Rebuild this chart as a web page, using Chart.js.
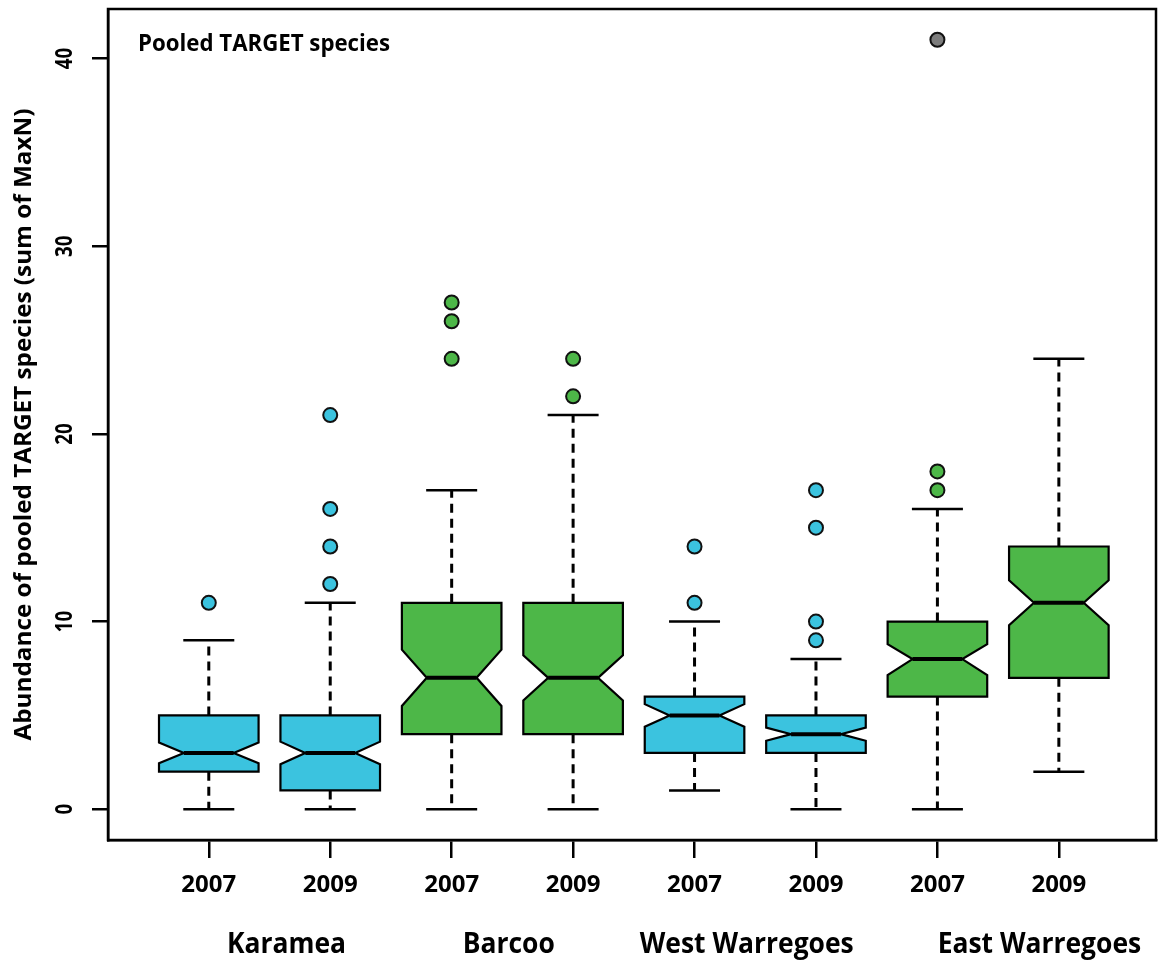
<!DOCTYPE html>
<html><head><meta charset="utf-8">
<script src="https://cdn.jsdelivr.net/npm/chart.js@4"></script>
<style>html,body{margin:0;padding:0;background:#fff}#wrap{width:1165px;height:961px;position:relative}</style>
</head><body><div id="wrap"><canvas id="c"></canvas></div>
<script>
// ---- data ----
const groups = ['Karamea', 'Barcoo', 'West Warregoes', 'East Warregoes'];
const groupLabelAt = [1.64, 3.47, 5.43, 7.84];
const years = ['2007', '2009', '2007', '2009', '2007', '2009', '2007', '2009'];
const whiskerLow = [0, 0, 0, 0, 1, 0, 0, 2];
const q1 = [2, 1, 4, 4, 3, 3, 6, 7];
const median = [3, 3, 7, 7, 5, 4, 8, 11];
const q3 = [5, 5, 11, 11, 6, 5, 10, 14];
const whiskerHigh = [9, 11, 17, 21, 10, 8, 16, 24];
const notchLow = [2.45, 2.4, 5.5, 5.8, 4.4, 3.65, 7.15, 9.8];
const notchHigh = [3.55, 3.6, 8.5, 8.2, 5.6, 4.35, 8.8, 12.2];
const outliers = [[11], [12, 14, 16, 21], [24, 26, 27], [22, 24], [11, 14], [9, 10, 15, 17], [17, 18], []];
const greyOutliers = [[], [], [], [], [], [], [41], []];
const yTicks = [0, 10, 20, 30, 40];
const panelTitle = 'Pooled TARGET species';
const yTitle = 'Abundance of pooled TARGET species (sum of MaxN)';

// ---- style ----
const CYAN = '#3BC3DF', GREEN = '#4DB748', GREY = '#7D7D7D';
const boxColor = i => (Math.floor(i / 2) % 2 === 0 ? CYAN : GREEN);
const BOX_HALF = 0.41, CAP_HALF = 0.21;
const FONT = '"Open Sans", "DejaVu Sans", sans-serif';

function fitText(ctx, text, x, y, font, width, align, rot) {
  ctx.save();
  ctx.font = font;
  const w = ctx.measureText(text).width;
  const s = width / w;
  ctx.translate(x, y);
  if (rot) ctx.rotate(rot);
  ctx.scale(s, 1);
  ctx.textAlign = align;
  ctx.textBaseline = 'alphabetic';
  ctx.fillStyle = '#000';
  ctx.fillText(text, 0, 0);
  ctx.restore();
}

const boxPlugin = {
  id: 'boxes',
  beforeDatasetsDraw(chart) {
    const { ctx, scales: { x, y } } = chart;
    for (let i = 0; i < median.length; i++) {
      const c = i + 1;
      const xc = x.getPixelForValue(c);
      const xl = x.getPixelForValue(c - BOX_HALF), xr = x.getPixelForValue(c + BOX_HALF);
      const xml = x.getPixelForValue(c - BOX_HALF / 2), xmr = x.getPixelForValue(c + BOX_HALF / 2);
      const cl = x.getPixelForValue(c - CAP_HALF), cr = x.getPixelForValue(c + CAP_HALF);
      ctx.save();
      ctx.strokeStyle = '#000';
      ctx.lineWidth = 3;
      ctx.setLineDash([9, 6]);
      ctx.beginPath();
      ctx.moveTo(xc, y.getPixelForValue(q3[i])); ctx.lineTo(xc, y.getPixelForValue(whiskerHigh[i]));
      ctx.moveTo(xc, y.getPixelForValue(q1[i])); ctx.lineTo(xc, y.getPixelForValue(whiskerLow[i]));
      ctx.stroke();
      ctx.setLineDash([]);
      ctx.lineWidth = 2.5;
      ctx.beginPath();
      ctx.moveTo(cl, y.getPixelForValue(whiskerHigh[i])); ctx.lineTo(cr, y.getPixelForValue(whiskerHigh[i]));
      ctx.moveTo(cl, y.getPixelForValue(whiskerLow[i])); ctx.lineTo(cr, y.getPixelForValue(whiskerLow[i]));
      ctx.stroke();
      const yq1 = y.getPixelForValue(q1[i]), yq3 = y.getPixelForValue(q3[i]);
      const ynl = y.getPixelForValue(notchLow[i]), ynh = y.getPixelForValue(notchHigh[i]);
      const ym = y.getPixelForValue(median[i]);
      ctx.beginPath();
      ctx.moveTo(xl, yq1); ctx.lineTo(xl, ynl); ctx.lineTo(xml, ym); ctx.lineTo(xl, ynh); ctx.lineTo(xl, yq3);
      ctx.lineTo(xr, yq3); ctx.lineTo(xr, ynh); ctx.lineTo(xmr, ym); ctx.lineTo(xr, ynl); ctx.lineTo(xr, yq1);
      ctx.closePath();
      ctx.fillStyle = boxColor(i);
      ctx.fill();
      ctx.lineWidth = 2.2;
      ctx.lineJoin = 'miter';
      ctx.stroke();
      ctx.lineWidth = 4;
      ctx.beginPath();
      ctx.moveTo(xml, ym); ctx.lineTo(xmr, ym);
      ctx.stroke();
      ctx.restore();
    }
  },
  afterDraw(chart) {
    const { ctx, chartArea: a, scales: { x, y } } = chart;
    ctx.save();
    ctx.strokeStyle = '#000';
    ctx.lineWidth = 2.5;
    ctx.strokeRect(a.left, a.top, a.right - a.left, a.bottom - a.top);
    ctx.restore();
    yTicks.forEach(v => {
      fitText(ctx, String(v), 72, y.getPixelForValue(v), 'bold 24px ' + FONT, String(v).length * 10.8, 'center', -Math.PI / 2);
    });
    fitText(ctx, yTitle, 31, (a.top + a.bottom) / 2, 'bold 23px ' + FONT, 632, 'center', -Math.PI / 2);
    fitText(ctx, panelTitle, 138, 51, 'bold 24px ' + FONT, 252, 'left', 0);
    ctx.save();
    ctx.font = 'bold 28px ' + FONT;
    const gs = 214 / ctx.measureText('West Warregoes').width;
    const widths = groups.map(g => ctx.measureText(g).width * gs);
    ctx.restore();
    groups.forEach((g, k) => {
      fitText(ctx, g, x.getPixelForValue(groupLabelAt[k]), 953, 'bold 28px ' + FONT, widths[k], 'center', 0);
    });
  }
};

const outlierData = [];
const outlierColors = [];
outliers.forEach((arr, i) => arr.forEach(v => { outlierData.push({ x: i + 1, y: v }); outlierColors.push(boxColor(i)); }));
const greyData = [];
greyOutliers.forEach((arr, i) => arr.forEach(v => greyData.push({ x: i + 1, y: v })));

new Chart(document.getElementById('c'), {
  type: 'scatter',
  data: {
    datasets: [
      { data: outlierData, pointRadius: 7, pointBackgroundColor: outlierColors, pointBorderColor: '#111', pointBorderWidth: 2 },
      { data: greyData, pointRadius: 7, pointBackgroundColor: GREY, pointBorderColor: '#111', pointBorderWidth: 2 }
    ]
  },
  options: {
    responsive: true,
    maintainAspectRatio: false,
    animation: false,
    layout: { padding: { top: 7, right: 3, left: 0, bottom: 0 } },
    plugins: { legend: { display: false }, tooltip: { enabled: false } },
    scales: {
      x: {
        type: 'linear', min: 0.17, max: 8.8,
        afterBuildTicks: s => { s.ticks = years.map((_, i) => ({ value: i + 1 })); },
        afterFit: s => { s.height = 121; },
        grid: { drawOnChartArea: false, drawTicks: true, tickLength: 18, color: '#000', lineWidth: 2.5 },
        border: { display: true, color: '#000', width: 2.5 },
        ticks: {
          autoSkip: false, maxRotation: 0, minRotation: 0, padding: 13,
          color: '#000', font: { family: FONT, size: 24, weight: 'bold' },
          callback: v => years[v - 1]
        }
      },
      y: {
        type: 'linear', min: -1.64, max: 42.64,
        afterBuildTicks: s => { s.ticks = yTicks.map(v => ({ value: v })); },
        afterFit: s => { s.width = 108; },
        grid: { drawOnChartArea: false, drawTicks: true, tickLength: 16, color: '#000', lineWidth: 2.5 },
        border: { display: true, color: '#000', width: 2.5 },
        ticks: { display: false }
      }
    }
  },
  plugins: [boxPlugin]
});
</script>
</body></html>
